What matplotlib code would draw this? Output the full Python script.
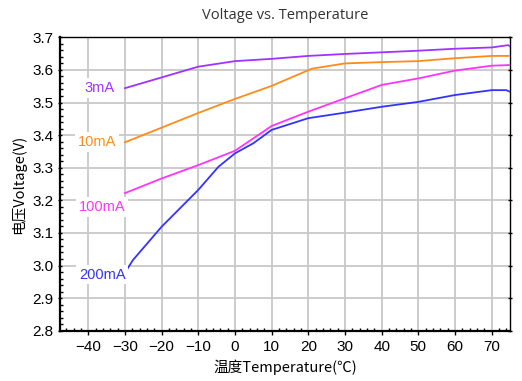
import matplotlib
matplotlib.use("Agg")
import matplotlib.pyplot as plt
from matplotlib.ticker import MultipleLocator, FormatStrFormatter

plt.rcParams["font.family"] = ["Liberation Sans", "Noto Sans CJK SC"]

temp_3ma = [-30, -20, -10, 0, 10, 20, 30, 40, 50, 60, 70, 74.5, 75]
volt_3ma = [3.544, 3.577, 3.610, 3.627, 3.634, 3.643, 3.649, 3.654, 3.659, 3.665, 3.669, 3.676, 3.672]

temp_10ma = [-30, -20, -10, 0, 10, 21, 30, 40, 50, 60, 70, 75]
volt_10ma = [3.378, 3.423, 3.468, 3.511, 3.551, 3.604, 3.620, 3.624, 3.627, 3.636, 3.643, 3.643]

temp_100ma = [-30, -20, -10, 0, 10, 20, 30, 40, 50, 60, 70, 75]
volt_100ma = [3.222, 3.267, 3.308, 3.352, 3.428, 3.472, 3.513, 3.554, 3.574, 3.598, 3.613, 3.615]

temp_200ma = [-30, -27.8, -20, -10, -4.5, 0, 5, 10, 20, 30, 40, 50, 60, 70, 74, 75]
volt_200ma = [2.978, 3.017, 3.119, 3.232, 3.303, 3.344, 3.375, 3.416, 3.452, 3.469,
              3.487, 3.502, 3.523, 3.538, 3.538, 3.533]

series = [
    ("3mA", temp_3ma, volt_3ma, "#a033ff", (-36.8, 3.545)),
    ("10mA", temp_10ma, volt_10ma, "#ff8c1a", (-37.6, 3.379)),
    ("100mA", temp_100ma, volt_100ma, "#ff33ff", (-36.2, 3.180)),
    ("200mA", temp_200ma, volt_200ma, "#3333ff", (-36.2, 2.972)),
]

fig = plt.figure(figsize=(5.22, 3.81), dpi=100)
ax = fig.add_axes([0.115, 0.132, 0.862, 0.770])

for name, t, v, color, (lx, ly) in series:
    ax.plot(t, v, color=color, linewidth=1.3, zorder=3)
    ax.text(lx, ly, name, color=color, fontsize=10.5, ha="center", va="center",
            zorder=4, bbox=dict(facecolor="white", edgecolor="none", pad=2))

ax.set_xlim(-47.7, 75)
ax.set_ylim(2.8, 3.7)
ax.xaxis.set_major_locator(MultipleLocator(10))
ax.xaxis.set_minor_locator(MultipleLocator(2))
ax.yaxis.set_major_locator(MultipleLocator(0.1))
ax.yaxis.set_minor_locator(MultipleLocator(0.02))
ax.yaxis.set_major_formatter(FormatStrFormatter("%.1f"))

ax.grid(True, which="major", color="#c8c8c8", linewidth=1.3, zorder=0)
ax.set_axisbelow(True)

ax.tick_params(axis="both", which="major", labelsize=11, length=3, width=1,
               colors="black", direction="out")
ax.tick_params(axis="both", which="minor", length=2, width=1, direction="in")
ax.tick_params(axis="y", which="major", right=True, direction="inout")
ax.tick_params(axis="y", which="minor", right=False)

for side in ["left", "bottom"]:
    ax.spines[side].set_linewidth(1.6)
for side in ["top", "right"]:
    ax.spines[side].set_linewidth(1.0)

ax.set_title("Voltage vs. Temperature", fontsize=10.5, color="#333333", pad=13,
             family=["Open Sans", "DejaVu Sans"])
ax.set_xlabel("温度Temperature(℃)", fontsize=10.5,
              family=["Noto Sans CJK SC", "DejaVu Sans"], labelpad=4)
ax.set_ylabel("电压Voltage(V)", fontsize=10.5,
              family=["Noto Sans CJK SC", "DejaVu Sans"], labelpad=4)

fig.savefig("out.png", dpi=100, facecolor="white")
